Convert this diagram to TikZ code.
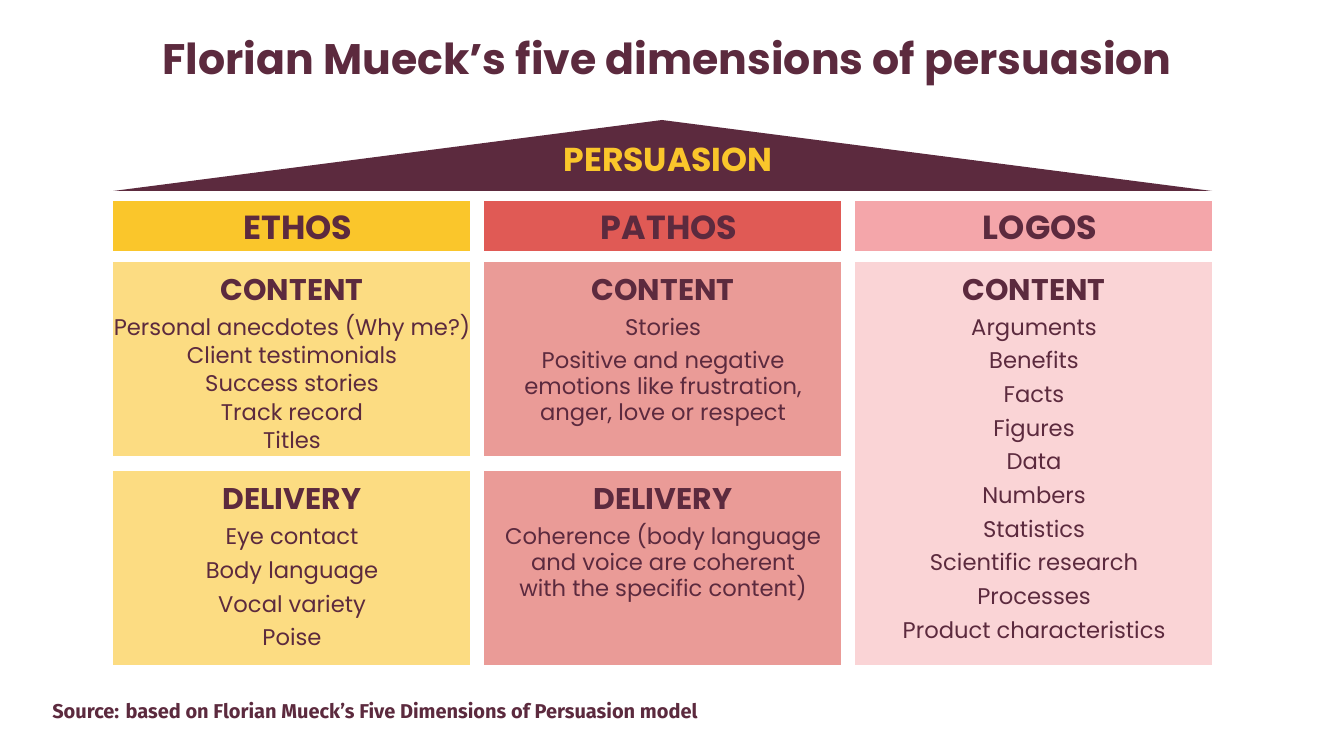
\documentclass[tikz,border=0pt]{standalone}
\usepackage{fontspec}
\setmainfont{Poppins}
\newfontfamily\srcfont{Fira Sans}
\definecolor{maroon}{HTML}{5C2A3E}
\definecolor{persy}{HTML}{FAC62B}
\definecolor{ethh}{HTML}{FAC62B}
\definecolor{ethb}{HTML}{FCDC82}
\definecolor{path}{HTML}{E05A55}
\definecolor{patb}{HTML}{EA9B97}
\definecolor{logh}{HTML}{F4A6AA}
\definecolor{logb}{HTML}{FAD4D6}
\tikzset{
  panel/.style={rectangle, inner sep=0, anchor=north west, minimum width=267.75pt},
  hdr/.style={inner sep=0, anchor=base, text=maroon, font=\fontsize{25}{30}\selectfont\bfseries},
  sub/.style={inner sep=0, anchor=base, text=maroon, font=\fontsize{22.4}{27}\selectfont\bfseries},
  txt/.style={inner sep=0, anchor=base, text=maroon, font=\fontsize{17}{20}\selectfont},
}
\begin{document}
\begin{tikzpicture}[x=0.75pt,y=-0.75pt]
\useasboundingbox (0,0) rectangle (1333,752);
\fill[white] (0,0) rectangle (1333,752);
% title
\node[hdr, font=\fontsize{32}{38}\selectfont\bfseries] (title) at (667,75) {Florian Mueck’s five dimensions of persuasion};
% roof
\fill[maroon] (113,191) -- (662,120) -- (1212,191) -- cycle;
\node[hdr, text=persy, font=\fontsize{24.8}{30}\selectfont\bfseries] (pers) at (668,172) {PERSUASION};
% headers
\node[panel, fill=ethh, minimum height=37.5pt] (eh) at (113,201) {};
\node[panel, fill=path, minimum height=37.5pt] (ph) at (484,201) {};
\node[panel, fill=logh, minimum height=37.5pt] (lh) at (855,201) {};
\node[hdr] (eht) at (298,239) {ETHOS};
\node[hdr] (pht) at (669,239) {PATHOS};
\node[hdr] (lht) at (1040,239) {LOGOS};
% bodies
\node[panel, fill=ethb, minimum height=145.5pt] (ec) at (113,262) {};
\node[panel, fill=ethb, minimum height=145.5pt] (ed) at (113,471) {};
\node[panel, fill=patb, minimum height=145.5pt] (pc) at (484,262) {};
\node[panel, fill=patb, minimum height=145.5pt] (pd) at (484,471) {};
\node[panel, fill=logb, minimum height=302.25pt] (lc) at (855,262) {};
% ethos content
\node[sub] (ec0) at (292,300) {CONTENT};
\node[txt] (ec1) at (292,335) {Personal anecdotes (Why me?)};
\node[txt] (ec2) at (292,363) {Client testimonials};
\node[txt] (ec3) at (292,391.5) {Success stories};
\node[txt] (ec4) at (292,420) {Track record};
\node[txt] (ec5) at (292,448) {Titles};
% ethos delivery
\node[sub] (ed0) at (292,509) {DELIVERY};
\node[txt] (ed1) at (292,544) {Eye contact};
\node[txt] (ed2) at (292,578) {Body language};
\node[txt] (ed3) at (292,612) {Vocal variety};
\node[txt] (ed4) at (292,645) {Poise};
% pathos content
\node[sub] (pc0) at (663,300) {CONTENT};
\node[txt] (pc1) at (663,335) {Stories};
\node[txt] (pc2) at (663,368.5) {Positive and negative};
\node[txt] (pc3) at (663,394.5) {emotions like frustration,};
\node[txt] (pc4) at (663,420.5) {anger, love or respect};
% pathos delivery
\node[sub] (pd0) at (663,509) {DELIVERY};
\node[txt] (pd1) at (663,544) {Coherence (body language};
\node[txt] (pd2) at (663,570.5) {and voice are coherent};
\node[txt] (pd3) at (663,596.5) {with the specific content)};
% logos content
\node[sub] (lc0) at (1034,300) {CONTENT};
\node[txt] (lc1) at (1034,335) {Arguments};
\node[txt] (lc2) at (1034,368.7) {Benefits};
\node[txt] (lc3) at (1034,402.4) {Facts};
\node[txt] (lc4) at (1034,436.1) {Figures};
\node[txt] (lc5) at (1034,469.8) {Data};
\node[txt] (lc6) at (1034,503.5) {Numbers};
\node[txt] (lc7) at (1034,537.2) {Statistics};
\node[txt] (lc8) at (1034,570.9) {Scientific research};
\node[txt] (lc9) at (1034,604.6) {Processes};
\node[txt] (lc10) at (1034,638.3) {Product characteristics};
% source
\node[inner sep=0, anchor=base west, text=maroon, font=\srcfont\fontsize{15}{18}\selectfont\bfseries] (src) at (52,718) {Source: based on Florian Mueck’s Five Dimensions of Persuasion model};
\end{tikzpicture}
\end{document}
